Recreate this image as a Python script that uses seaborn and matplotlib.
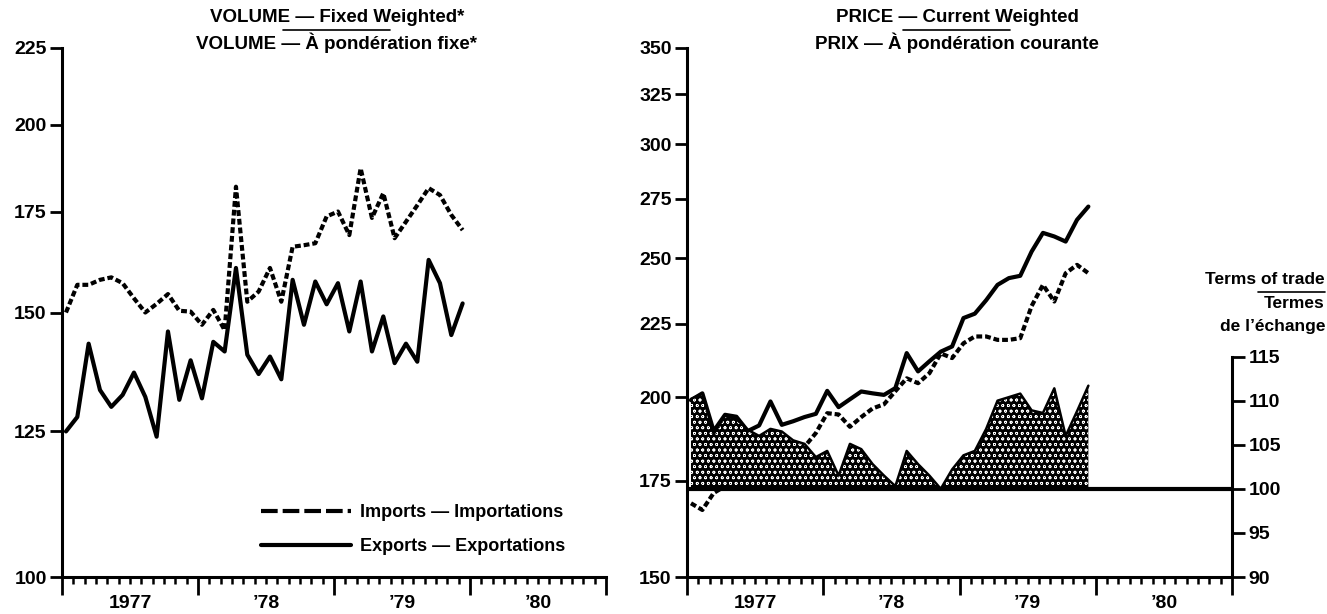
import numpy as np
import pandas as pd
import seaborn as sns
import matplotlib.pyplot as plt
import matplotlib.ticker as mticker
from matplotlib.lines import Line2D

# monthly data, Jan 1977 .. Dec 1979
months = np.arange(36)

vol_imports = [150.0, 156.5, 156.5, 157.7, 158.3, 156.9, 153.3, 150.0, 152.0, 154.3, 150.4, 150.2,
               147.2, 150.6, 146.0, 181.9, 152.5, 154.9, 160.6, 152.5, 165.9, 166.3, 166.8, 173.8,
               175.1, 168.9, 187.1, 173.4, 180.1, 168.1, 172.4, 176.8, 181.5, 179.6, 174.2, 170.2]
vol_exports = [125.0, 127.8, 143.0, 133.2, 129.8, 132.2, 136.8, 131.8, 124.0, 145.7, 131.2, 139.4,
               131.5, 143.4, 141.3, 160.6, 140.6, 136.5, 140.2, 135.4, 157.7, 147.2, 157.3, 151.9,
               156.9, 145.7, 157.3, 141.3, 149.1, 138.8, 143.0, 139.1, 162.6, 156.9, 144.9, 152.1]

price_imports = [168.8, 167.0, 171.6, 173.5, 175.0, 176.5, 178.0, 179.5, 181.0, 183.0, 184.8, 188.9,
                 195.0, 194.6, 190.8, 193.8, 196.5, 197.8, 202.0, 206.2, 204.6, 207.9, 214.6, 213.0,
                 218.1, 220.5, 220.5, 219.3, 219.3, 219.9, 231.5, 239.5, 233.2, 244.0, 247.3, 244.0]
price_exports = [199.1, 201.3, 189.5, 194.5, 193.9, 189.5, 191.2, 198.7, 191.4, 192.5, 193.8, 194.8,
                 202.1, 196.9, 199.4, 201.9, 201.3, 200.8, 203.0, 214.7, 208.5, 211.9, 215.2, 217.0,
                 227.1, 228.7, 233.7, 239.5, 242.1, 243.0, 252.6, 260.3, 258.8, 256.7, 265.8, 271.5]

terms_of_trade = [110.2, 110.8, 106.2, 108.3, 107.9, 106.7, 106.0, 106.8, 106.5, 105.5, 105.1, 103.6,
                  104.3, 101.5, 105.1, 104.5, 102.8, 101.5, 100.3, 104.3, 102.8, 101.5, 100.0, 102.2,
                  103.8, 104.3, 106.8, 110.0, 110.4, 110.8, 108.9, 108.6, 111.4, 106.0, 108.8, 111.7]

year_labels = ["1977", "\u201978", "\u201979", "\u201980"]
vol_ticks = [100, 125, 150, 175, 200, 225]
price_ticks = [150, 175, 200, 225, 250, 275, 300, 325, 350]
tot_ticks = [90, 95, 100, 105, 110, 115]

sns.set_style("ticks")
plt.rcParams["font.family"] = ["Liberation Sans", "DejaVu Sans"]
plt.rcParams["font.weight"] = "bold"
plt.rcParams["hatch.linewidth"] = 0.5
for k in ["text.color", "axes.labelcolor", "xtick.color", "ytick.color", "axes.edgecolor"]:
    plt.rcParams[k] = "black"

df = pd.DataFrame({"x": months + 0.35,
                   "vol_imp": vol_imports, "vol_exp": vol_exports,
                   "pr_imp": price_imports, "pr_exp": price_exports,
                   "tot": terms_of_trade})

W, H = 1327, 614
fig = plt.figure(figsize=(W / 100, H / 100), dpi=100)
ax1 = fig.add_axes([62 / W, 37 / H, 544 / W, 529 / H])
ax2 = fig.add_axes([687 / W, 37 / H, 545 / W, 529 / H])

dash = (0, (1.4, 0.7))
lw = 3.0
TICK = 14

sns.lineplot(data=df, x="x", y="vol_imp", ax=ax1, color="black", lw=lw, linestyle=dash)
sns.lineplot(data=df, x="x", y="vol_exp", ax=ax1, color="black", lw=lw)
sns.lineplot(data=df, x="x", y="pr_imp", ax=ax2, color="black", lw=lw, linestyle=dash)
sns.lineplot(data=df, x="x", y="pr_exp", ax=ax2, color="black", lw=lw)


def style_axis(ax, lo, hi, ticks):
    ax.set_yscale("log")
    ax.set_ylim(lo, hi)
    ax.yaxis.set_major_locator(mticker.FixedLocator(ticks))
    ax.yaxis.set_major_formatter(mticker.FixedFormatter([str(t) for t in ticks]))
    ax.yaxis.set_minor_locator(mticker.NullLocator())
    ax.set_xlim(0, 48)
    ax.set_xticks([0, 12, 24, 36, 48], labels=[""] * 5)
    minor = [m for m in range(1, 48) if m % 12]
    labs = [year_labels[m // 12] if m % 12 == 6 else "" for m in minor]
    ax.set_xticks(minor, labels=labs, minor=True)
    ax.tick_params(axis="x", which="major", length=13, width=2, direction="out")
    ax.tick_params(axis="x", which="minor", length=5, width=1.8, direction="out",
                   pad=8, labelsize=TICK)
    ax.tick_params(axis="y", length=9, width=2, labelsize=TICK, pad=2)
    ax.set_xlabel("")
    ax.set_ylabel("")
    for s in ["top", "right"]:
        ax.spines[s].set_visible(False)
    for s in ["left", "bottom"]:
        ax.spines[s].set_linewidth(2.2)
    for t in ax.get_xticklabels(minor=True) + ax.get_yticklabels():
        t.set_fontweight("bold")


style_axis(ax1, 100, 225, vol_ticks)
style_axis(ax2, 150, 350, price_ticks)

# terms of trade on its own scale
ax3 = ax2.twinx()
ax3.set_ylim(90, 150)
ax3.fill_between(df["x"], 100, df["tot"], facecolor="black", edgecolor="white",
                 hatch="ooo", linewidth=0, zorder=2)
ax3.plot(df["x"], df["tot"], color="black", lw=1.8, zorder=3)
ax3.axhline(100, color="black", lw=3, zorder=4)
ax3.set_yticks(tot_ticks)
ax3.set_yticklabels([str(t) for t in tot_ticks], fontweight="bold")
ax3.tick_params(axis="y", length=9, width=2, labelsize=TICK, pad=3)
for s in ["top", "left", "bottom"]:
    ax3.spines[s].set_visible(False)
ax3.spines["right"].set_bounds(90, 115)
ax3.spines["right"].set_linewidth(2.2)

# legend
handles = [Line2D([], [], color="black", lw=lw, linestyle=(0, (4, 1.2))),
           Line2D([], [], color="black", lw=lw)]
ax1.legend(handles, ["Imports \u2014 Importations", "Exports \u2014 Exportations"],
           loc="lower right", bbox_to_anchor=(0.955, 0.01), frameon=False,
           handlelength=5.0, handletextpad=0.5, labelspacing=0.95,
           prop={"weight": "bold", "size": 13})

# titles
TS = 13.5
fig.text(337 / W, 1 - 17 / H, "VOLUME \u2014 Fixed Weighted*", ha="center", va="center",
         fontsize=TS, fontweight="bold")
fig.text(337 / W, 1 - 43 / H, "VOLUME \u2014 \u00c0 pond\u00e9ration fixe*", ha="center",
         va="center", fontsize=TS, fontweight="bold")
fig.add_artist(Line2D([283 / W, 390 / W], [1 - 30 / H] * 2, color="black", lw=1.2))

fig.text(957 / W, 1 - 17 / H, "PRICE \u2014 Current Weighted", ha="center", va="center",
         fontsize=TS, fontweight="bold")
fig.text(957 / W, 1 - 43 / H, "PRIX \u2014 \u00c0 pond\u00e9ration courante", ha="center",
         va="center", fontsize=TS, fontweight="bold")
fig.add_artist(Line2D([903 / W, 1010 / W], [1 - 30 / H] * 2, color="black", lw=1.2))

fig.text(1325 / W, 1 - 280 / H, "Terms of trade", ha="right", va="center",
         fontsize=12.5, fontweight="bold")
fig.text(1325 / W, 1 - 304 / H, "Termes", ha="right", va="center",
         fontsize=12.5, fontweight="bold")
fig.text(1325 / W, 1 - 327 / H, "de l\u2019\u00e9change", ha="right", va="center",
         fontsize=12.5, fontweight="bold")
fig.add_artist(Line2D([1258 / W, 1325 / W], [1 - 292 / H] * 2, color="black", lw=1.2))

fig.savefig("out.png", dpi=100)
